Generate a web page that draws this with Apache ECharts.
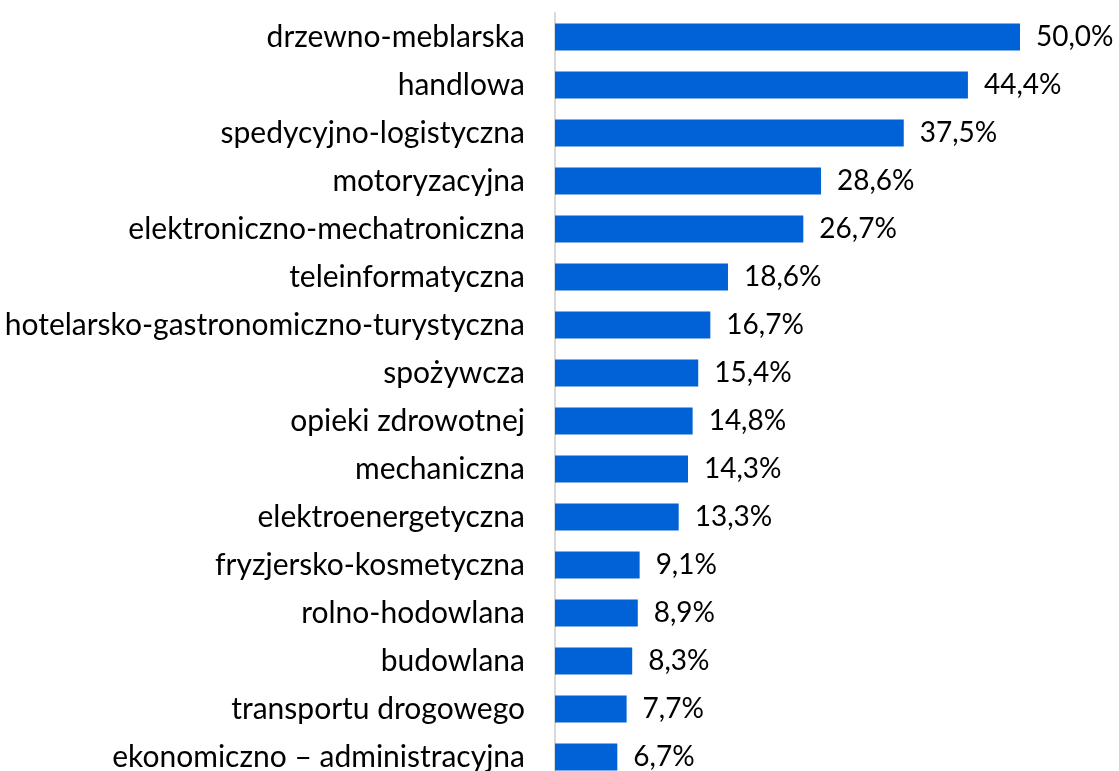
<!DOCTYPE html>
<html>
<head>
    <meta charset="utf-8">
    <title>Branże</title>
    <script src="https://cdn.jsdelivr.net/npm/echarts@6/dist/echarts.min.js"></script>
    <style>
        html, body { margin: 0; padding: 0; background: #fff; overflow: hidden; }
        /* wykres ucięty u dołu jak w oryginale */
        #main { width: 1119px; height: 790px; }
    </style>
</head>
<body>
    <div id="main"></div>
    <script type="text/javascript">
        var branze = ['drzewno-meblarska', 'handlowa', 'spedycyjno-logistyczna', 'motoryzacyjna',
            'elektroniczno-mechatroniczna', 'teleinformatyczna', 'hotelarsko-gastronomiczno-turystyczna',
            'spożywcza', 'opieki zdrowotnej', 'mechaniczna', 'elektroenergetyczna',
            'fryzjersko-kosmetyczna', 'rolno-hodowlana', 'budowlana', 'transportu drogowego',
            'ekonomiczno – administracyjna'];
        var udzial = [50.0, 44.4, 37.5, 28.6, 26.7, 18.6, 16.7, 15.4, 14.8, 14.3, 13.3, 9.1, 8.9, 8.3, 7.7, 6.7];

        var myChart = echarts.init(document.getElementById('main'));
        myChart.setOption({
            animation: false,
            textStyle: { fontFamily: 'Lato' },
            grid: { left: 555, top: 13, width: 465, height: 768 },
            xAxis: {
                type: 'value', min: 0, max: 50, show: false
            },
            yAxis: {
                type: 'category',
                inverse: true,
                data: branze,
                axisTick: { show: false },
                axisLine: { lineStyle: { color: '#d9d9d9', width: 2 } },
                axisLabel: { color: '#000', fontSize: 30, margin: 30, fontFamily: 'Lato' }
            },
            series: [{
                type: 'bar',
                data: udzial,
                barWidth: 27,
                itemStyle: { color: '#0062d6' },
                label: {
                    show: true,
                    position: 'right',
                    distance: 16,
                    color: '#000',
                    fontSize: 28,
                    fontFamily: 'Lato',
                    formatter: function (p) { return p.value.toFixed(1).replace('.', ',') + '%'; }
                }
            }]
        });
    </script>
</body>
</html>
